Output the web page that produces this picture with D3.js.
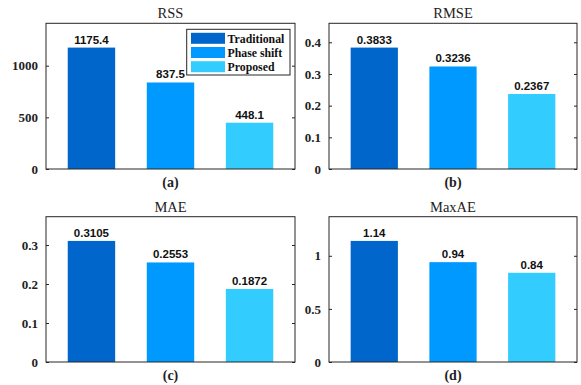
<!DOCTYPE html>
<html>
<head>
<meta charset="utf-8">
<script src="https://cdn.jsdelivr.net/npm/d3@7"></script>
<style>
  html, body { margin: 0; padding: 0; background: #fff; }
  svg { display: block; }
</style>
</head>
<body>
<svg id="chart" width="581" height="385"></svg>
<script>
// Error metrics for the three methods
const methods = ["Traditional", "Phase shift", "Proposed"];
const methodColors = ["#0066CC", "#0099FF", "#33CCFF"];

const rssValues = [1175.4, 837.5, 448.1];
const rmseValues = [0.3833, 0.3236, 0.2367];
const maeValues = [0.3105, 0.2553, 0.1872];
const maxaeValues = [1.14, 0.94, 0.84];

const rssLabels = ["1175.4", "837.5", "448.1"];
const rmseLabels = ["0.3833", "0.3236", "0.2367"];
const maeLabels = ["0.3105", "0.2553", "0.1872"];
const maxaeLabels = ["1.14", "0.94", "0.84"];

const rssTicks = [0, 500, 1000];
const rmseTicks = [0, 0.1, 0.2, 0.3, 0.4];
const maeTicks = [0, 0.1, 0.2, 0.3];
const maxaeTicks = [0, 0.5, 1];

const titles = ["RSS", "RMSE", "MAE", "MaxAE"];
const panelTags = ["(a)", "(b)", "(c)", "(d)"];

const svg = d3.select("#chart");
const serif = "'Liberation Serif', 'Times New Roman', serif";
const sans = "'Liberation Sans', Arial, sans-serif";
const axisColor = "#262626";

// Panel frames (plot area boxes)
const frames = [
  { x0: 46, x1: 295, y0: 23.3, y1: 169 },
  { x0: 329, x1: 577, y0: 23.3, y1: 169 },
  { x0: 46, x1: 295, y0: 216.7, y1: 362 },
  { x0: 329, x1: 577, y0: 216.7, y1: 362 }
];

const panels = [
  { values: rssValues, labels: rssLabels, ticks: rssTicks },
  { values: rmseValues, labels: rmseLabels, ticks: rmseTicks },
  { values: maeValues, labels: maeLabels, ticks: maeTicks },
  { values: maxaeValues, labels: maxaeLabels, ticks: maxaeTicks }
];

panels.forEach((p, i) => {
  const f = frames[i];
  const g = svg.append("g");

  const x = d3.scaleLinear().domain([0.425, 3.575]).range([f.x0, f.x1]);
  const y = d3.scaleLinear().domain([0, 1.2 * d3.max(p.values)]).range([f.y1, f.y0]);
  const barW = x(1.3) - x(0.7);

  // bars
  g.selectAll("rect.bar")
    .data(p.values)
    .join("rect")
    .attr("class", "bar")
    .attr("x", (d, k) => x(k + 1) - barW / 2)
    .attr("y", d => y(d))
    .attr("width", barW)
    .attr("height", d => y(0) - y(d))
    .attr("fill", (d, k) => methodColors[k]);

  // value labels above bars
  g.selectAll("text.val")
    .data(p.values)
    .join("text")
    .attr("class", "val")
    .attr("x", (d, k) => x(k + 1))
    .attr("y", d => y(d) - 4)
    .attr("text-anchor", "middle")
    .attr("font-family", sans)
    .attr("font-weight", "bold")
    .attr("font-size", "11.5px")
    .attr("fill", "#111")
    .text((d, k) => p.labels[k]);

  // left axis with inward ticks
  const left = d3.axisLeft(y).tickValues(p.ticks).tickSize(-3).tickPadding(8)
    .tickFormat(d3.format("~g"));
  const la = g.append("g").attr("transform", `translate(${f.x0},0)`).call(left);
  la.attr("font-family", null).attr("font-size", null);
  la.select(".domain").remove();
  la.selectAll(".tick line").attr("stroke", axisColor);
  la.selectAll(".tick text")
    .attr("font-family", serif)
    .attr("font-weight", "bold")
    .attr("font-size", "13px")
    .attr("fill", "#222");

  // right axis ticks (inward, no labels)
  const right = d3.axisRight(y).tickValues(p.ticks).tickSize(-3).tickFormat("");
  const ra = g.append("g").attr("transform", `translate(${f.x1},0)`).call(right);
  ra.select(".domain").remove();
  ra.selectAll(".tick line").attr("stroke", axisColor);

  // box
  g.append("rect")
    .attr("x", f.x0).attr("y", f.y0)
    .attr("width", f.x1 - f.x0).attr("height", f.y1 - f.y0)
    .attr("fill", "none")
    .attr("stroke", axisColor)
    .attr("stroke-width", 1);

  // title
  g.append("text")
    .attr("x", (f.x0 + f.x1) / 2)
    .attr("y", f.y0 - 5)
    .attr("text-anchor", "middle")
    .attr("font-family", serif)
    .attr("font-size", "14.5px")
    .attr("fill", "#222")
    .text(titles[i]);

  // panel tag
  g.append("text")
    .attr("x", (f.x0 + f.x1) / 2)
    .attr("y", f.y1 + 18)
    .attr("text-anchor", "middle")
    .attr("font-family", serif)
    .attr("font-weight", "bold")
    .attr("font-size", "14px")
    .attr("fill", "#222")
    .text(panelTags[i]);
});

// legend inside the first panel
const leg = svg.append("g");
leg.append("rect")
  .attr("x", 186.7).attr("y", 29.3)
  .attr("width", 103.3).attr("height", 45.7)
  .attr("fill", "#fff")
  .attr("stroke", axisColor)
  .attr("stroke-width", 1);
const rowY = d3.scalePoint().domain(methods).range([38.3, 66.7]);
leg.selectAll("rect.sw")
  .data(methods)
  .join("rect")
  .attr("class", "sw")
  .attr("x", 191).attr("y", d => rowY(d) - 5.5)
  .attr("width", 34).attr("height", 11)
  .attr("fill", (d, k) => methodColors[k]);
leg.selectAll("text.lt")
  .data(methods)
  .join("text")
  .attr("class", "lt")
  .attr("x", 227.5).attr("y", d => rowY(d) + 4.2)
  .attr("font-family", serif)
  .attr("font-weight", "bold")
  .attr("font-size", "11.8px")
  .attr("fill", "#111")
  .text(d => d);
</script>
</body>
</html>
